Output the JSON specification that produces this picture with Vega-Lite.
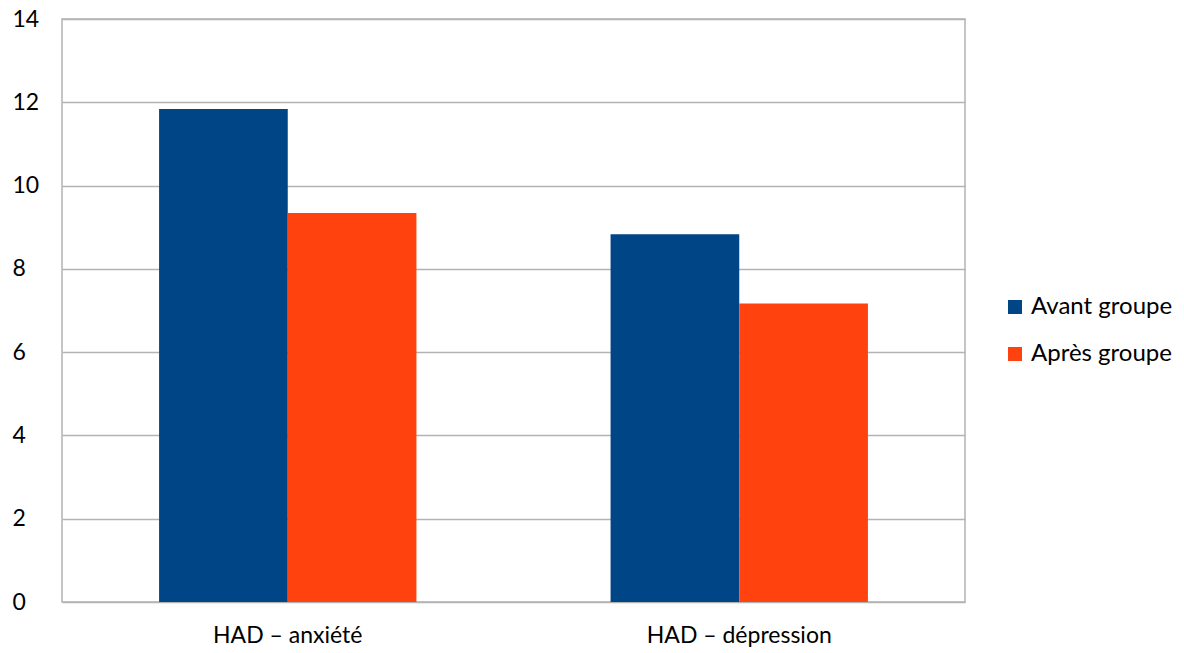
{
  "$schema": "https://vega.github.io/schema/vega-lite/v6.json",
  "autosize": "none",
  "padding": {"left": 62, "top": 19, "right": 219, "bottom": 51},
  "width": 903,
  "height": 583,
  "background": "white",
  "config": {
    "font": "Lato",
    "view": {"stroke": "#b3b3b3", "strokeWidth": 1.5},
    "axis": {"labelFont": "Lato", "labelColor": "#000000", "labelFontSize": 23, "labelLimit": 0, "gridColor": "#b3b3b3", "gridWidth": 1.5, "gridOpacity": 1}
  },
  "data": {
    "values": [
      {"mesure": "HAD – anxiété", "groupe": "Avant groupe", "score": 11.84},
      {"mesure": "HAD – anxiété", "groupe": "Après groupe", "score": 9.34},
      {"mesure": "HAD – dépression", "groupe": "Avant groupe", "score": 8.83},
      {"mesure": "HAD – dépression", "groupe": "Après groupe", "score": 7.17}
    ]
  },
  "mark": {"type": "bar"},
  "encoding": {
    "x": {
      "field": "mesure", "type": "nominal", "sort": ["HAD – anxiété", "HAD – dépression"],
      "scale": {"paddingInner": 0.43, "paddingOuter": 0.215},
      "axis": {"title": null, "labelAngle": 0, "ticks": false, "tickSize": 0, "domain": false, "labelPadding": 22, "labelLimit": 0, "grid": false}
    },
    "xOffset": {
      "field": "groupe", "type": "nominal", "sort": ["Avant groupe", "Après groupe"],
      "scale": {"paddingInner": 0, "paddingOuter": 0}
    },
    "y": {
      "field": "score", "type": "quantitative",
      "scale": {"domain": [0, 14], "nice": false},
      "axis": {"title": null, "values": [0, 2, 4, 6, 8, 10, 12, 14], "ticks": false, "tickSize": 0, "domain": false, "labelAlign": "left", "labelPadding": 50, "labelBaseline": "middle", "grid": true}
    },
    "color": {
      "field": "groupe", "type": "nominal", "sort": ["Avant groupe", "Après groupe"],
      "scale": {"domain": ["Avant groupe", "Après groupe"], "range": ["#004586", "#ff420e"]},
      "legend": {
        "title": null, "orient": "none", "legendX": 941, "legendY": 276, "padding": 0,
        "symbolType": "square", "symbolSize": 196, "symbolStrokeWidth": 0, "symbolOpacity": 1,
        "labelFont": "Lato", "labelFontSize": 24, "labelColor": "#000000", "labelOffset": 4,
        "labelLimit": 0, "rowPadding": 23
      }
    }
  }
}
